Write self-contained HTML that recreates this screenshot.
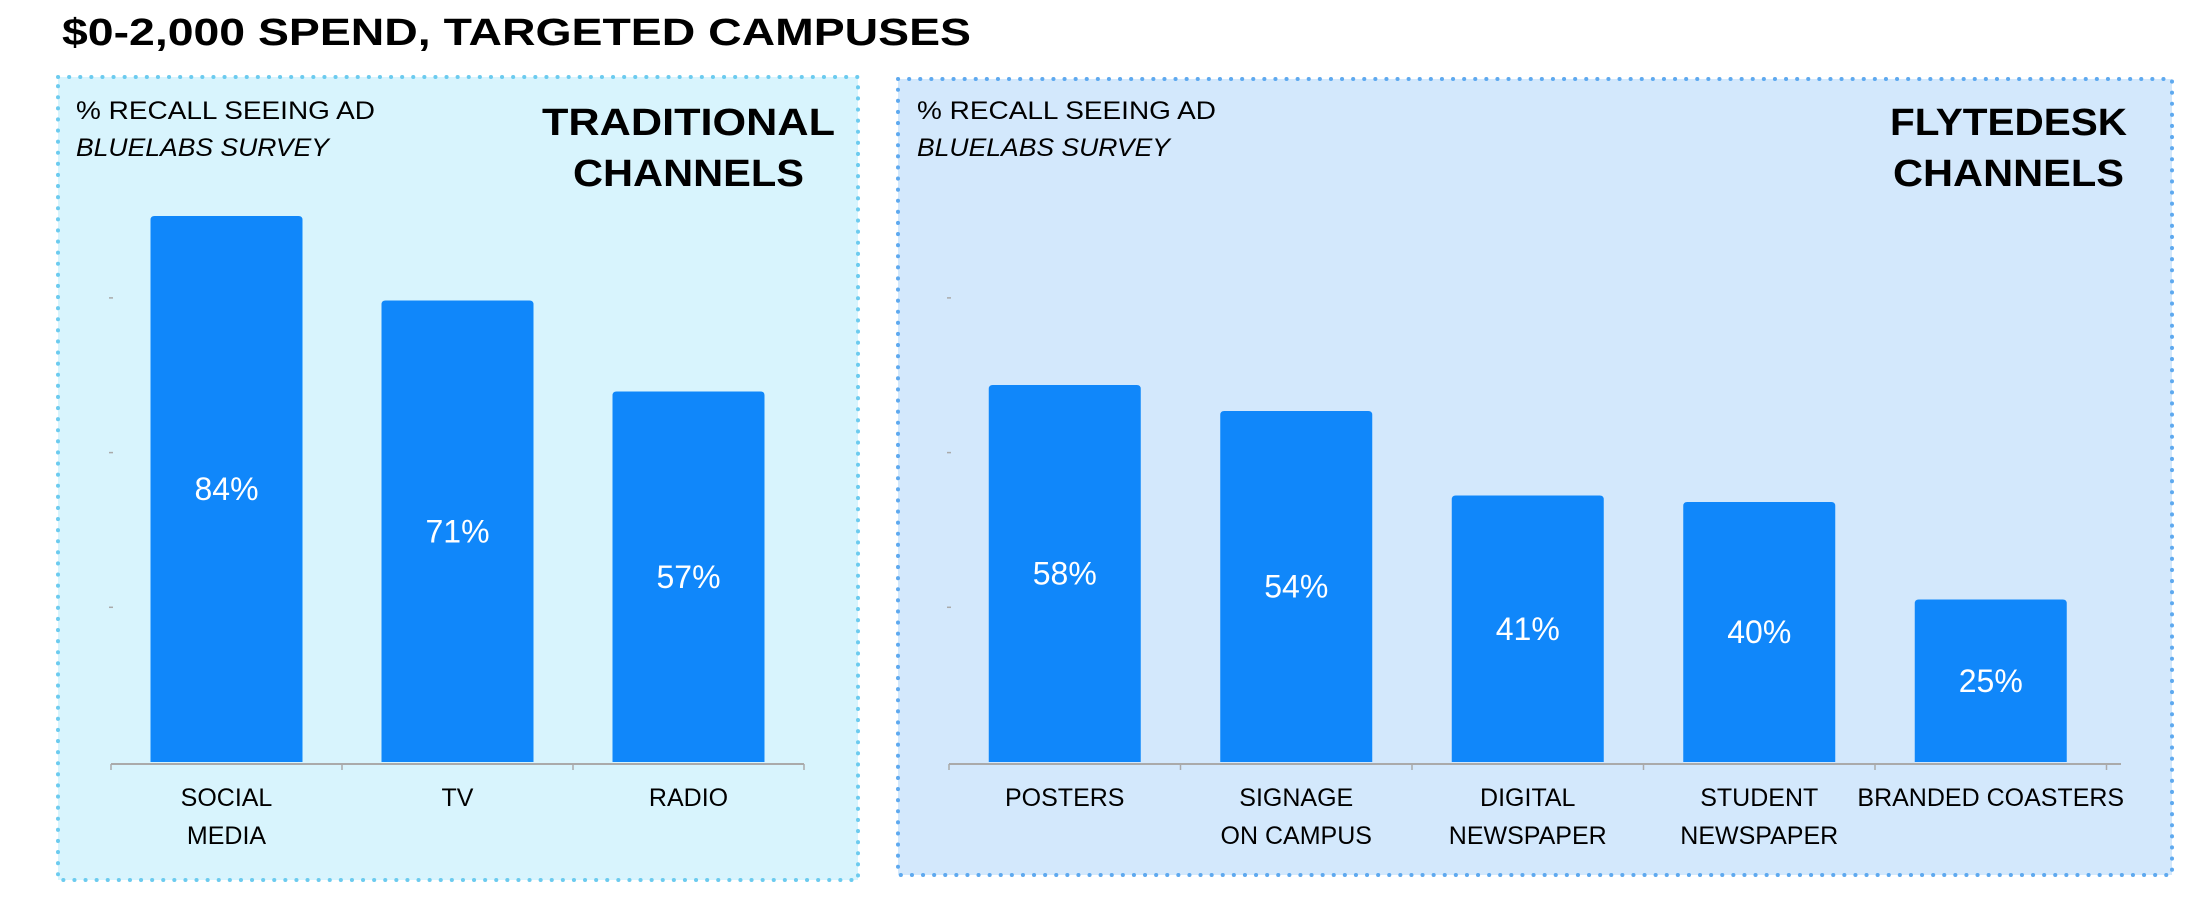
<!DOCTYPE html>
<html><head><meta charset="utf-8"><style>
html,body{margin:0;padding:0;background:#fff;}
svg{display:block;font-family:"Liberation Sans",sans-serif;}
</style></head><body>
<svg id="c" width="2212" height="914" viewBox="0 0 2212 914" xmlns="http://www.w3.org/2000/svg">
<text x="62" y="45" font-size="38" font-weight="bold" textLength="909" lengthAdjust="spacingAndGlyphs" fill="#000">$0-2,000 SPEND, TARGETED CAMPUSES</text>
<rect x="58" y="77" width="800" height="803" fill="#d8f4fd" stroke="#6ccbef" stroke-width="4" stroke-dasharray="0.1 11" stroke-linecap="round"/>
<rect x="898" y="79" width="1274" height="796" fill="#d3e8fc" stroke="#5ea9ef" stroke-width="4" stroke-dasharray="0.1 11" stroke-linecap="round"/>
<text x="76" y="119" font-size="25" textLength="299" lengthAdjust="spacingAndGlyphs">% RECALL SEEING AD</text>
<text x="76" y="156" font-size="25" font-style="italic" textLength="253" lengthAdjust="spacingAndGlyphs">BLUELABS SURVEY</text>
<text x="542" y="135" font-size="38" font-weight="bold" textLength="293" lengthAdjust="spacingAndGlyphs">TRADITIONAL</text>
<text x="573" y="186" font-size="38" font-weight="bold" textLength="231" lengthAdjust="spacingAndGlyphs">CHANNELS</text>
<text x="917" y="119" font-size="25" textLength="299" lengthAdjust="spacingAndGlyphs">% RECALL SEEING AD</text>
<text x="917" y="156" font-size="25" font-style="italic" textLength="253" lengthAdjust="spacingAndGlyphs">BLUELABS SURVEY</text>
<text x="1890" y="135" font-size="38" font-weight="bold" textLength="237" lengthAdjust="spacingAndGlyphs">FLYTEDESK</text>
<text x="1893" y="186" font-size="38" font-weight="bold" textLength="231" lengthAdjust="spacingAndGlyphs">CHANNELS</text>
<g id="left"></g>
<g id="right"></g>
</svg>
<script>
const leftCategories = [["SOCIAL","MEDIA"],["TV"],["RADIO"]];
const leftValues = [84, 71, 57];
const leftLabels = ["84%","71%","57%"];
const rightCategories = [["POSTERS"],["SIGNAGE","ON CAMPUS"],["DIGITAL","NEWSPAPER"],["STUDENT","NEWSPAPER"],["BRANDED COASTERS"]];
const rightValues = [58, 54, 41, 40, 25];
const rightLabels = ["58%","54%","41%","40%","25%"];
const tickValues = [23.8, 47.6, 71.4];

const NS = "http://www.w3.org/2000/svg";
const baseY = 762, pxPerPct = 6.5;
function yScale(v){ return baseY - v * pxPerPct; }
function mk(tag, attrs, parent){ const e=document.createElementNS(NS,tag); for(const k in attrs) e.setAttribute(k,attrs[k]); parent.appendChild(e); return e; }

function draw(gId, cats, vals, labels, x0, band, axisEnd, prefix){
  const g = document.getElementById(gId);
  const bw = 152;
  function xCenter(i){ return x0 + band*(i+0.5); }
  tickValues.forEach((t,i)=>{
    const tk = mk('line',{x1:x0-2,x2:x0+2,y1:yScale(t),y2:yScale(t),stroke:'#aaa','stroke-width':1.5},g);
    
    
  });
  vals.forEach((v,i)=>{
    const cx = xCenter(i), top = yScale(v);
    const b = mk('path',{d:`M${cx-bw/2},${baseY} L${cx-bw/2},${top+4} Q${cx-bw/2},${top} ${cx-bw/2+4},${top} L${cx+bw/2-4},${top} Q${cx+bw/2},${top} ${cx+bw/2},${top+4} L${cx+bw/2},${baseY} Z`,fill:'#1087fa'},g);
    
    
    const t = mk('text',{x:cx,y:(top+baseY)/2+11,'text-anchor':'middle','font-size':32,fill:'#fff'},g);
    t.textContent = labels[i];
    
    
    cats[i].forEach((line,j)=>{
      const c = mk('text',{x:cx,y:806+j*38,'text-anchor':'middle','font-size':25,fill:'#000'},g);
      c.textContent = line;
      
      
    });
  });
  const ax = mk('line',{x1:x0,x2:axisEnd,y1:baseY+2,y2:baseY+2,stroke:'#aaa','stroke-width':2},g);
  
  
  for(let i=0;i<=vals.length;i++){
    const tk = mk('line',{x1:x0+band*i,x2:x0+band*i,y1:baseY+2,y2:baseY+8,stroke:'#aaa','stroke-width':1.5},g);
    
    
  }
}
draw('left', leftCategories, leftValues, leftLabels, 111, 231, 804, 'traditional');
draw('right', rightCategories, rightValues, rightLabels, 949, 231.5, 2121, 'flytedesk');
</script>
</body></html>
